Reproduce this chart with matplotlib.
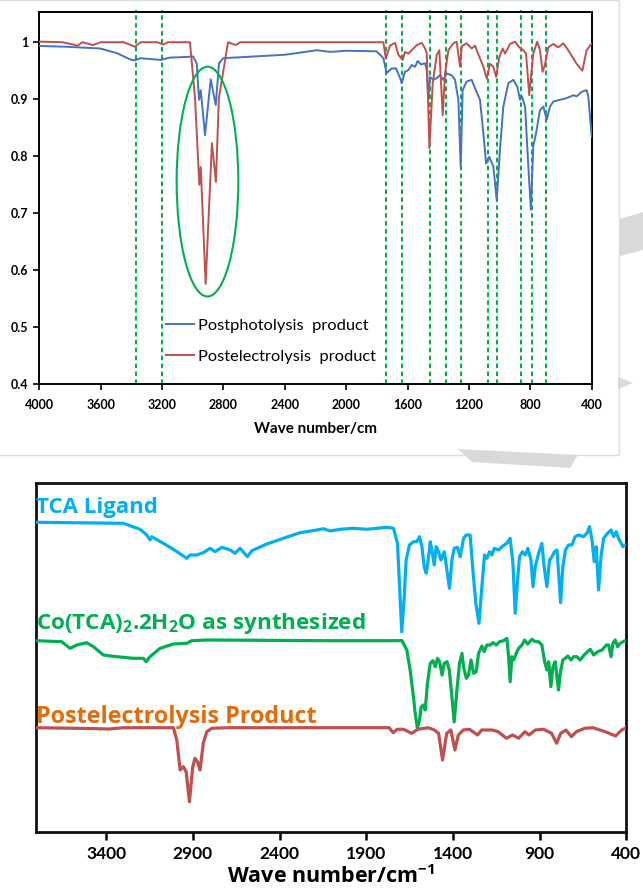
import matplotlib
matplotlib.use("Agg")
import matplotlib.pyplot as plt
from matplotlib.patches import Ellipse, Rectangle, Polygon
from matplotlib.ticker import FixedLocator, FuncFormatter

plt.rcParams['font.family'] = ['Lato', 'DejaVu Sans']
plt.rcParams['mathtext.fontset'] = 'custom'
plt.rcParams['mathtext.rm'] = 'Open Sans'
plt.rcParams['mathtext.bf'] = 'Open Sans:bold'
plt.rcParams['mathtext.it'] = 'Open Sans:italic'

# ---------------- upper panel: transmittance spectra ----------------
photo_wn = [4000, 3822, 3604, 3496, 3409, 3380, 3340, 3300, 3210, 3150, 3050, 2998,
            2974, 2959, 2948, 2920, 2883, 2850, 2829, 2801, 2600, 2400, 2190, 2105,
            2000, 1801, 1758, 1736, 1703, 1675, 1649, 1638, 1617, 1595, 1573, 1551,
            1534, 1512, 1486, 1475, 1465, 1454, 1432, 1410, 1389, 1367, 1345, 1312,
            1291, 1269, 1254, 1241, 1215, 1182, 1160, 1128, 1106, 1088, 1067, 1041,
            1019, 998, 976, 943, 911, 885, 867, 854, 834, 813, 796, 781, 763, 737,
            715, 693, 672, 650, 607, 563, 520, 498, 465, 433, 422, 400]
photo_t = [0.9925, 0.991, 0.988, 0.980, 0.969, 0.967, 0.971, 0.970, 0.968, 0.972, 0.973, 0.974,
           0.962, 0.898, 0.915, 0.836, 0.934, 0.889, 0.962, 0.971, 0.974, 0.977, 0.985, 0.982,
           0.984, 0.983, 0.971, 0.945, 0.953, 0.953, 0.936, 0.927, 0.947, 0.950, 0.959, 0.956,
           0.966, 0.960, 0.962, 0.950, 0.898, 0.938, 0.933, 0.936, 0.941, 0.933, 0.944, 0.941,
           0.933, 0.898, 0.781, 0.915, 0.930, 0.933, 0.918, 0.898, 0.839, 0.786, 0.798, 0.781,
           0.722, 0.810, 0.886, 0.927, 0.933, 0.921, 0.898, 0.904, 0.886, 0.781, 0.705, 0.816, 0.839, 0.880,
           0.886, 0.863, 0.886, 0.895, 0.898, 0.901, 0.906, 0.904, 0.912, 0.915, 0.904, 0.833]

electro_wn = [4000, 3850, 3748, 3720, 3650, 3600, 3450, 3376, 3340, 3230, 3193, 3160,
              3018, 2985, 2957, 2948, 2916, 2875, 2849, 2830, 2770, 2720, 2690, 2200,
              1758, 1742, 1714, 1682, 1660, 1632, 1617, 1595, 1540, 1508, 1486, 1475,
              1458, 1436, 1410, 1393, 1371, 1356, 1334, 1302, 1280, 1258, 1247, 1215,
              1182, 1160, 1139, 1106, 1084, 1063, 1041, 1023, 1002, 980, 965, 932,
              900, 872, 846, 828, 807, 781, 755, 737, 720, 705, 683, 650,
              618, 585, 553, 498, 461, 433, 406, 400]
electro_t = [1.000, 0.999, 0.993, 0.999, 0.994, 0.999, 0.999, 0.991, 0.999, 0.999, 0.995, 0.999,
             0.999, 0.900, 0.749, 0.780, 0.575, 0.822, 0.754, 0.900, 0.999, 0.994, 0.999, 0.999,
             0.999, 0.971, 0.993, 0.998, 0.977, 0.968, 0.982, 0.979, 0.994, 0.998, 0.988, 0.980,
             0.813, 0.927, 0.977, 0.985, 0.871, 0.944, 0.985, 0.997, 1.000, 0.956, 0.992, 0.997,
             0.988, 0.993, 0.978, 0.956, 0.935, 0.961, 0.956, 0.938, 0.973, 0.988, 0.979, 0.996,
             1.000, 0.990, 0.985, 0.979, 0.906, 0.979, 1.000, 0.985, 0.947, 0.959, 0.990, 0.996,
             0.990, 0.997, 0.985, 0.961, 0.949, 0.985, 0.995, 0.996]

marked_bands = [3370, 3198, 1742, 1638, 1454, 1351, 1252, 1078, 1015, 859, 791, 698]
top_yticks = [0.4, 0.5, 0.6, 0.7, 0.8, 0.9, 1.0]
top_xticks = [4000, 3600, 3200, 2800, 2400, 2000, 1600, 1200, 800, 400]

# ---------------- lower panel: stacked spectra ----------------
tca_wn = [3804, 3301, 3205, 3166, 3147, 3137, 3071, 3013, 2964, 2935, 2916, 2878, 2840, 2801,
          2772, 2733, 2685, 2657, 2628, 2586, 2560, 2474, 2378, 2282, 2185, 2147, 2108, 2051,
          1974, 1897, 1781, 1743, 1720, 1708, 1695, 1681, 1670, 1651, 1628, 1608, 1593, 1579,
          1566, 1554, 1544, 1531, 1520, 1508, 1497, 1483, 1469, 1450, 1435, 1420, 1406, 1393,
          1374, 1358, 1339, 1323, 1301, 1285, 1268, 1250, 1233, 1218, 1204, 1189, 1175, 1162,
          1137, 1112, 1089, 1070, 1054, 1041, 1027, 1016, 999, 983, 968, 950, 938, 925, 906,
          887, 874, 858, 843, 829, 814, 800, 789, 779, 766, 751, 734, 714, 695, 676, 647, 627,
          612, 598, 585, 574, 560, 546, 531, 508, 488, 473, 458, 445, 435, 419, 410, 400]
tca_t = [3.097, 3.087, 3.027, 2.970, 2.920, 2.953, 2.887, 2.827, 2.770, 2.737, 2.770, 2.770, 2.793, 2.837,
         2.803, 2.847, 2.820, 2.787, 2.837, 2.753, 2.813, 2.880, 2.937, 2.993, 3.020, 3.033, 3.010, 3.027,
         3.037, 3.027, 3.047, 3.037, 2.887, 2.453, 2.003, 2.353, 2.720, 2.870, 2.903, 2.903, 2.953, 2.853,
         2.653, 2.587, 2.703, 2.903, 2.803, 2.670, 2.853, 2.803, 2.720, 2.803, 2.620, 2.437, 2.720, 2.837,
         2.847, 2.753, 2.937, 2.970, 2.970, 2.620, 2.287, 2.087, 2.453, 2.770, 2.737, 2.803, 2.770, 2.837,
         2.820, 2.860, 2.887, 2.937, 2.687, 2.187, 2.520, 2.753, 2.803, 2.770, 2.837, 2.720, 2.453, 2.653, 2.787,
         2.887, 2.653, 2.453, 2.720, 2.753, 2.803, 2.820, 2.553, 2.293, 2.653, 2.820, 2.870, 2.870, 2.953, 2.970, 2.953, 2.987,
         3.053, 2.920, 2.703, 2.853, 2.420, 2.753, 2.937, 2.987, 3.020, 2.953, 3.003, 2.937, 2.903, 2.853, 2.870, 2.870]

co_wn = [3804, 3657, 3609, 3570, 3513, 3474, 3417, 3340, 3244, 3186, 3170, 3147, 3090, 3013,
         2935, 2907, 2820, 2108, 1723, 1695, 1666, 1647, 1628, 1618, 1605, 1593, 1583, 1570,
         1560, 1547, 1531, 1516, 1502, 1489, 1477, 1463, 1450, 1435, 1421, 1406, 1393, 1377,
         1362, 1348, 1339, 1323, 1310, 1296, 1281, 1266, 1252, 1233, 1220, 1204, 1185, 1169,
         1150, 1131, 1108, 1089, 1079, 1070, 1060, 1050, 1035, 1021, 1002, 987, 969, 944, 925,
         906, 887, 871, 858, 848, 835, 823, 810, 800, 791, 781, 766, 752, 737, 719, 704, 685,
         666, 643, 624, 608, 588, 565, 540, 515, 502, 488, 477, 464, 450, 435, 419, 406, 400]
co_t = [1.913, 1.903, 1.837, 1.870, 1.893, 1.853, 1.770, 1.753, 1.737, 1.737, 1.703, 1.753, 1.837, 1.880,
        1.887, 1.913, 1.920, 1.913, 1.913, 1.915, 1.820, 1.620, 1.353, 1.187, 1.037, 1.120, 1.253, 1.270,
        1.220, 1.487, 1.687, 1.713, 1.653, 1.737, 1.703, 1.570, 1.687, 1.703, 1.620, 1.353, 1.100, 1.420,
        1.687, 1.787, 1.653, 1.537, 1.570, 1.720, 1.587, 1.603, 1.787, 1.860, 1.803, 1.870, 1.870, 1.893,
        1.870, 1.903, 1.913, 1.937, 1.753, 1.503, 1.753, 1.720, 1.787, 1.837, 1.870, 1.920, 1.880, 1.927, 1.903,
        1.903, 1.870, 1.703, 1.620, 1.703, 1.453, 1.653, 1.703, 1.553, 1.420, 1.587, 1.720, 1.737, 1.760, 1.720, 1.753, 1.753,
        1.720, 1.770, 1.803, 1.827, 1.770, 1.803, 1.820, 1.870, 1.870, 1.753, 1.887, 1.920, 1.853, 1.887, 1.903, 1.913, 1.910]

post_wn = [3804, 3500, 3380, 3300, 3013, 2993, 2974, 2955, 2939, 2920, 2901, 2888, 2874, 2859,
           2840, 2820, 2791, 2700, 1768, 1745, 1722, 1685, 1638, 1602, 1543, 1507, 1483, 1460,
           1436, 1412, 1389, 1369, 1341, 1305, 1258, 1234, 1175, 1139, 1092, 1056, 1021, 985,
           961, 925, 878, 831, 802, 778, 748, 717, 688, 640, 593, 521, 462, 427, 400]
post_t = [1.043, 1.035, 1.030, 1.043, 1.043, 0.920, 0.620, 0.653, 0.603, 0.303, 0.653, 0.737, 0.703, 0.620,
          0.890, 1.003, 1.037, 1.043, 1.043, 0.993, 1.027, 1.027, 0.987, 1.027, 1.043, 1.020, 0.987, 0.720,
          0.987, 1.020, 0.820, 0.970, 1.020, 1.027, 0.970, 1.020, 1.020, 1.003, 0.937, 0.970, 0.937, 1.003,
          0.970, 1.020, 1.027, 0.987, 0.887, 0.987, 1.020, 0.953, 1.003, 1.037, 1.043, 1.003, 0.960, 1.020, 1.043]

bottom_xticks = [3400, 2900, 2400, 1900, 1400, 900, 400]

BLUE, RED = '#4472C4', '#C0504D'
GREEN = '#00B050'
SKY = '#00B0F0'
ORANGE = '#E36C0A'
LABEL_FONT = ['Open Sans', 'DejaVu Sans']

W, H = 643, 888
fig = plt.figure(figsize=(W / 100, H / 100), dpi=100)
fig.patch.set_facecolor('white')

def fx(px):
    return px / W

def fy(py):
    return 1 - py / H

# light frame and faint watermark shapes behind the panels
fig.patches.append(Rectangle((fx(-5), fy(455)), fx(624), 455 / H, transform=fig.transFigure,
                             facecolor='none', edgecolor='#dddddd', lw=1.0, zorder=0))
for pts in ([(620, 219), (643, 212), (643, 250), (620, 256)],
            [(618, 377), (633, 383), (618, 389)],
            [(458, 449), (578, 455), (570, 468), (472, 462)]):
    fig.patches.append(Polygon([(fx(a), fy(b)) for a, b in pts], closed=True,
                               transform=fig.transFigure, facecolor='#d9d9d9',
                               edgecolor='none', zorder=0))

# ---------- upper axes ----------
ax1 = fig.add_axes([fx(39.3), fy(383.7), fx(552.4), (383.7 - 12) / H])
ax1.set_xlim(4000, 400)
ax1.set_ylim(0.4, 1.052)
for wn in marked_bands:
    ax1.axvline(wn, ymax=1.006, clip_on=False, color=GREEN, lw=1.5,
                ls=(0, (2.2, 1.6)), zorder=1)
ax1.plot(photo_wn, photo_t, color=BLUE, lw=1.4, zorder=3, label='Postphotolysis  product')
ax1.plot(electro_wn, electro_t, color=RED, lw=1.4, zorder=3, label='Postelectrolysis  product')
ax1.add_patch(Ellipse((2904, 0.7545), width=402, height=0.403, fill=False,
                      edgecolor=GREEN, lw=1.5, zorder=4))
ax1.xaxis.set_major_locator(FixedLocator(top_xticks))
ax1.yaxis.set_major_locator(FixedLocator(top_yticks))
ax1.yaxis.set_major_formatter(FuncFormatter(lambda v, p: '1' if abs(v - 1) < 1e-9 else f'{v:.1f}'))
ax1.tick_params(axis='x', direction='out', length=4, width=1.2, labelsize=9, pad=7)
ax1.tick_params(axis='y', direction='out', length=4, width=1.2, labelsize=9, pad=4)
for lab in ax1.get_xticklabels() + ax1.get_yticklabels():
    lab.set_fontweight('bold')
for s in ax1.spines.values():
    s.set_linewidth(1.4)
    s.set_color('black')
ax1.set_xlabel('Wave number/cm', fontsize=11, fontweight='bold', labelpad=8)
ax1.legend(loc='upper left', bbox_to_anchor=(0.229, 0.175), frameon=False, fontsize=11.8,
           handlelength=1.75, handletextpad=0.2, labelspacing=1.0, borderpad=0,
           borderaxespad=0)

# ---------- lower axes ----------
ax2 = fig.add_axes([fx(36.2), fy(832), fx(590.1), (832 - 483) / H])
ax2.set_xlim(3804, 400)
ax2.set_ylim(0, 3.49)
ax2.plot(tca_wn, tca_t, color=SKY, lw=2.3, solid_joinstyle='round', zorder=3)
ax2.plot(co_wn, co_t, color=GREEN, lw=2.3, solid_joinstyle='round', zorder=3)
ax2.plot(post_wn, post_t, color=RED, lw=2.3, solid_joinstyle='round', zorder=3)
ax2.text(3804, 3.19, 'TCA Ligand', color=SKY, fontsize=16, fontweight='bold',
         family=LABEL_FONT, ha='left', va='baseline', zorder=5)
ax2.text(3804, 2.027, r'Co(TCA)$_\mathbf{2}$.2H$_\mathbf{2}$O as synthesized', color=GREEN,
         fontsize=16.2, fontweight='bold', family=LABEL_FONT, ha='left', va='baseline', zorder=5)
ax2.text(3804, 1.095, 'Postelectrolysis Product', color=ORANGE, fontsize=16.8,
         fontweight='bold', family=LABEL_FONT, ha='left', va='baseline', zorder=5)
ax2.xaxis.set_major_locator(FixedLocator(bottom_xticks))
ax2.set_yticks([])
ax2.tick_params(axis='x', direction='out', length=6, width=1.8, labelsize=12.5, pad=4)
for lab in ax2.get_xticklabels():
    lab.set_fontweight('bold')
for s in ax2.spines.values():
    s.set_linewidth(2.0)
    s.set_color('#111111')
ax2.set_xlabel(r'Wave number/cm$^{\mathbf{-1}}$', fontsize=15.5, fontweight='bold',
               family=LABEL_FONT, labelpad=2)

fig.savefig('out.png', dpi=100, facecolor='white')
